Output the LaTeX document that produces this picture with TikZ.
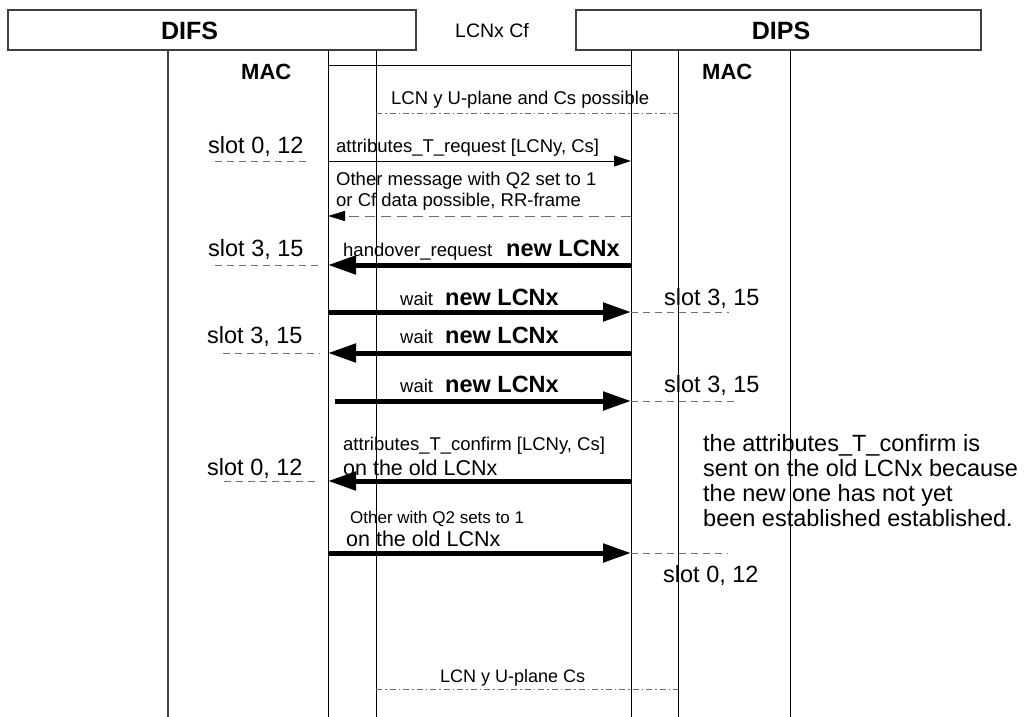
\documentclass[tikz,border=0pt]{standalone}
\usepackage{fontspec}
\setmainfont{Liberation Sans}
\usetikzlibrary{arrows.meta,positioning}
\definecolor{framegray}{HTML}{3F3F3F}
\definecolor{linegray}{HTML}{6E6E6E}
\newcommand\fsz[1]{\fontsize{#1}{#1}\selectfont}

\begin{document}
\begin{tikzpicture}[x=1pt,y=-1pt,
entity/.style={draw=framegray,line width=1.5pt,inner sep=0pt},
title/.style={inner sep=0pt,anchor=base,font=\fsz{25}\bfseries},
layer/.style={inner sep=0pt,anchor=base west,font=\fsz{22}\bfseries},
lbl/.style={inner sep=0pt,anchor=base west,font=\fsz{18.5}},
slot/.style={inner sep=0pt,anchor=base west,font=\fsz{23.5}},
newlcn/.style={inner sep=0pt,anchor=base west,font=\fsz{23.5}\bfseries},
lifeline/.style={line width=1pt},
slotline/.style={linegray,line width=1pt,dash pattern=on 7pt off 5pt},
plane/.style={linegray,line width=1pt,dash pattern=on 6pt off 3pt on 1.5pt off 3pt},
msg/.style={line width=1pt,-{Triangle[length=17pt,width=11pt]}},
reply/.style={linegray,line width=1pt,dash pattern=on 10pt off 6pt,-{Triangle[length=17pt,width=10pt,color=black]}},
bigmsg/.style={line width=5pt,-{Triangle[length=28pt,width=18pt]}}]
\useasboundingbox (0,0) rectangle (1026,717);

\node[entity,minimum width=408pt,minimum height=40pt] (difs) at (212,30) {};
\node[entity,minimum width=405pt,minimum height=40pt] (dips) at (778.5,30) {};
\node[title] (difs name) at (189.5,40) {DIFS};
\node[title] (dips name) at (781,40) {DIPS};
\node[lbl,font=\fsz{19.5}] (cf) at (455,38) {LCNx Cf};
\node[layer] (mac left) at (241,80) {MAC};
\node[layer] (mac right) at (702,80) {MAC};

\foreach \n/\x in {fa/168,fb/328,fc/376,pa/631,pb/678,pc/790}{
  \coordinate (\n) at (\x,50);
  \coordinate (\n-end) at (\x,717);}
\foreach \r/\y in {r0/66,r1/113,r2/161,r3/216,r4/265,r5/312,r6/353,r7/401,r8/481,r9/553,r10/689}
  \coordinate (\r) at (0,\y);

\draw[framegray,line width=1.5pt] (fa) -- (fa-end);
\foreach \n in {fb,fc,pa,pb,pc}
  \draw[lifeline] (\n) -- (\n-end);
\draw[lifeline] (fb |- r0) -- (pa |- r0);

\node[lbl] (up1) at (391,104) {LCN y U-plane and Cs possible};
\draw[plane] (fc |- r1) -- (pb |- r1);

\node[slot] (s1) at (208,153) {slot 0, 12};
\node[lbl] (req) at (336,152) {attributes\_T\_request [LCNy, Cs]};
\draw[slotline] ([xshift=7pt]s1.west |- r2) -- ([xshift=-20pt]fb |- r2);
\draw[msg] (fb |- r2) -- (pa |- r2);

\node[lbl] (oth1) at (336,185) {Other message with Q2 set to 1};
\node[lbl] (oth2) at (336,206) {or Cf data possible, RR-frame};
\draw[reply] (pa |- r3) -- (fb |- r3);

\node[slot] (s2) at (208,256) {slot 3, 15};
\node[lbl] (ho) at (343,256) {handover\_request};
\node[newlcn] (ho new) at (506,256) {new LCNx};
\draw[slotline] ([xshift=7pt]s2.west |- r4) -- ([xshift=-6pt]fb |- r4);
\draw[bigmsg] (pa |- r4) -- (fb |- r4);

\node[lbl] (w1) at (400,305) {wait};
\node[newlcn] (w1 new) at (445,305) {new LCNx};
\node[slot] (s3) at (664,305) {slot 3, 15};
\draw[bigmsg] (fb |- r5) -- (pa |- r5);
\draw[slotline] (pa |- r5) -- ([xshift=-31pt]s3.east |- r5);

\node[slot] (s4) at (207,343) {slot 3, 15};
\node[lbl] (w2) at (400,343) {wait};
\node[newlcn] (w2 new) at (445,343) {new LCNx};
\draw[slotline] ([xshift=16pt]s4.west |- r6) -- ([xshift=-8pt]fb |- r6);
\draw[bigmsg] (pa |- r6) -- (fb |- r6);

\node[lbl] (w3) at (400,392) {wait};
\node[newlcn] (w3 new) at (445,392) {new LCNx};
\node[slot] (s5) at (664,392) {slot 3, 15};
\draw[bigmsg] ([xshift=7pt]fb |- r7) -- (pa |- r7);
\draw[slotline] (pa |- r7) -- ([xshift=-25pt]s5.east |- r7);

\node[lbl] (conf) at (343,450) {attributes\_T\_confirm [LCNy, Cs]};
\node[lbl,font=\fsz{21.5}] (conf old) at (343,475) {on the old LCNx};
\node[slot] (s6) at (207,475) {slot 0, 12};
\draw[slotline] ([xshift=17pt]s6.west |- r8) -- ([xshift=-8pt]fb |- r8);
\draw[bigmsg] (pa |- r8) -- (fb |- r8);

\node[slot] (note1) at (703,451) {the attributes\_T\_confirm is};
\node[slot] (note2) at (703,476) {sent on the old LCNx because};
\node[slot] (note3) at (703,501) {the new one has not yet};
\node[slot] (note4) at (703,526) {been established established.};

\node[lbl,font=\fsz{17}] (oq) at (350,523) {Other with Q2 sets to 1};
\node[lbl,font=\fsz{21.5}] (oq old) at (346,546) {on the old LCNx};
\node[slot] (s7) at (663,582) {slot 0, 12};
\draw[bigmsg] (fb |- r9) -- (pa |- r9);
\draw[slotline] (pa |- r9) -- ([xshift=-31pt]s7.east |- r9);

\node[lbl,font=\fsz{18}] (up2) at (440,682) {LCN y U-plane Cs};
\draw[plane] (fc |- r10) -- (pb |- r10);
\end{tikzpicture}
\end{document}
